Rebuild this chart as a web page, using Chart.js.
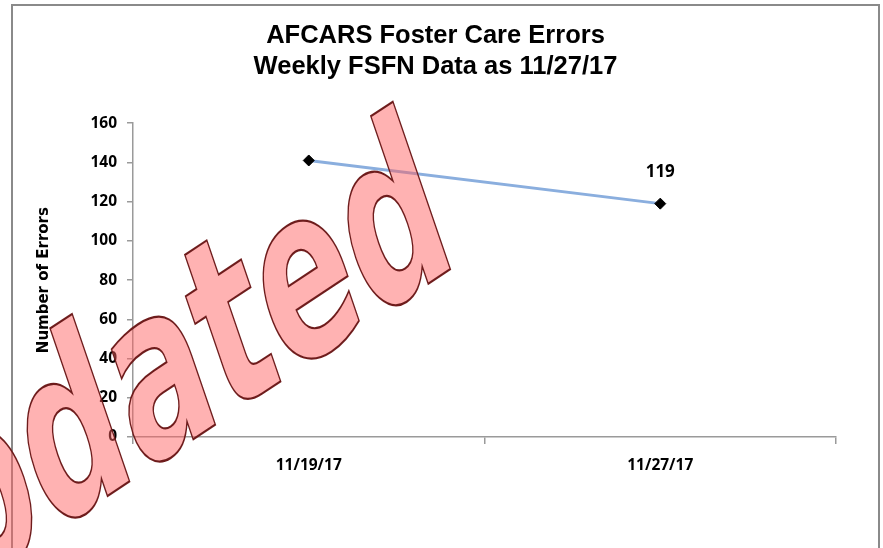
<!DOCTYPE html>
<html>
<head>
<meta charset="utf-8">
<script src="https://cdn.jsdelivr.net/npm/chart.js@4.4.1/dist/chart.umd.min.js"></script>
<style>
  html, body { margin: 0; padding: 0; background: #fff; }
  canvas { display: block; }
</style>
</head>
<body>
<canvas id="chart" width="883" height="548"></canvas>
<script>
// AFCARS foster care errors - weekly FSFN snapshot

const weeks = ["11/19/17", "11/27/17"];
const errors = [141, 119];
const showLabel = [false, true];   // only the latest week carries a value label
const yTicks = [0, 20, 40, 60, 80, 100, 120, 140, 160];
const titleLines = ["AFCARS Foster Care Errors", "Weekly FSFN Data as 11/27/17"];
const stampText = "Updated";

const AXIS = "#9a9a9a";
const FRAME = "#8a8a8a";
const LINE = "#8aaede";
const TICK_FONT = { family: "'Open Sans'", size: 15.5, weight: "bold" };

// ---- plugins ---------------------------------------------------------------
const frame = {
  id: "frame",
  beforeDraw(chart) {
    const ctx = chart.ctx;
    ctx.save();
    ctx.fillStyle = "#fff";
    ctx.fillRect(0, 0, chart.width, chart.height);
    ctx.strokeStyle = FRAME;
    ctx.lineWidth = 2;
    ctx.strokeRect(12, 5, 867, 620);
    ctx.restore();
  },
};

const valueLabels = {
  id: "valueLabels",
  afterDatasetsDraw(chart) {
    const ctx = chart.ctx;
    const pts = chart.getDatasetMeta(0).data;
    ctx.save();
    ctx.font = "bold 17px 'Open Sans'";
    ctx.fillStyle = "#000";
    ctx.textAlign = "center";
    ctx.textBaseline = "middle";
    pts.forEach((p, i) => {
      if (showLabel[i]) ctx.fillText(String(errors[i]), p.x, p.y - 31);
    });
    ctx.restore();
  },
};

// the big pink "Updated" stamp laid over the chart
const stamp = {
  id: "stamp",
  afterDraw(chart) {
    const ctx = chart.ctx;
    ctx.save();
    ctx.translate(461, 262);
    ctx.transform(0.834, -0.552, 0.5, 1.46, 0, 0);
    ctx.font = "bold 151px 'DejaVu Sans'";
    ctx.textAlign = "right";
    ctx.textBaseline = "alphabetic";
    ctx.fillStyle = "rgba(255, 95, 95, 0.48)";
    ctx.fillText(stampText, 0, 0);
    ctx.strokeStyle = "#6e1c1c";
    ctx.lineWidth = 1.4;
    ctx.strokeText(stampText, 0, 0);
    ctx.restore();
  },
};

// ---- chart -----------------------------------------------------------------
new Chart(document.getElementById("chart"), {
  type: "line",
  data: {
    labels: weeks,
    datasets: [{
      label: "Errors",
      data: errors,
      borderColor: LINE,
      borderWidth: 3,
      tension: 0,
      pointStyle: "rectRot",
      pointRadius: 5.5,
      pointBackgroundColor: "#000",
      pointBorderColor: "#000",
      pointBorderWidth: 1,
    }],
  },
  options: {
    responsive: false,
    animation: false,
    events: [],
    layout: { padding: { left: 35, right: 47, top: 0, bottom: 71 } },
    plugins: {
      legend: { display: false },
      tooltip: { enabled: false },
      title: {
        display: true,
        text: titleLines,
        color: "#000",
        font: { family: "'Liberation Sans'", size: 25.5, weight: "bold", lineHeight: 1.22 },
        padding: { top: 20, bottom: 41 },
      },
    },
    scales: {
      x: {
        offset: true,
        grid: { offset: true, drawOnChartArea: false, drawTicks: true, tickLength: 7, color: AXIS, lineWidth: 1.5 },
        border: { color: AXIS, width: 1.5 },
        ticks: { color: "#000", padding: 12, font: TICK_FONT },
        afterFit: (s) => { s.height = 40; },
      },
      y: {
        min: yTicks[0],
        max: yTicks[yTicks.length - 1],
        afterBuildTicks: (s) => { s.ticks = yTicks.map(v => ({ value: v })); },
        grid: { drawOnChartArea: false, drawTicks: true, tickLength: 6, color: AXIS, lineWidth: 1.5 },
        border: { color: AXIS, width: 1.5 },
        ticks: { color: "#000", padding: 10, font: TICK_FONT },
        title: {
          display: true,
          text: "Number of Errors",
          color: "#000",
          padding: 0,
          font: { family: "'DejaVu Sans'", size: 15, weight: "bold" },
        },
        afterFit: (s) => { s.width = 98; },
      },
    },
  },
  plugins: [frame, valueLabels, stamp],
});
</script>
</body>
</html>
